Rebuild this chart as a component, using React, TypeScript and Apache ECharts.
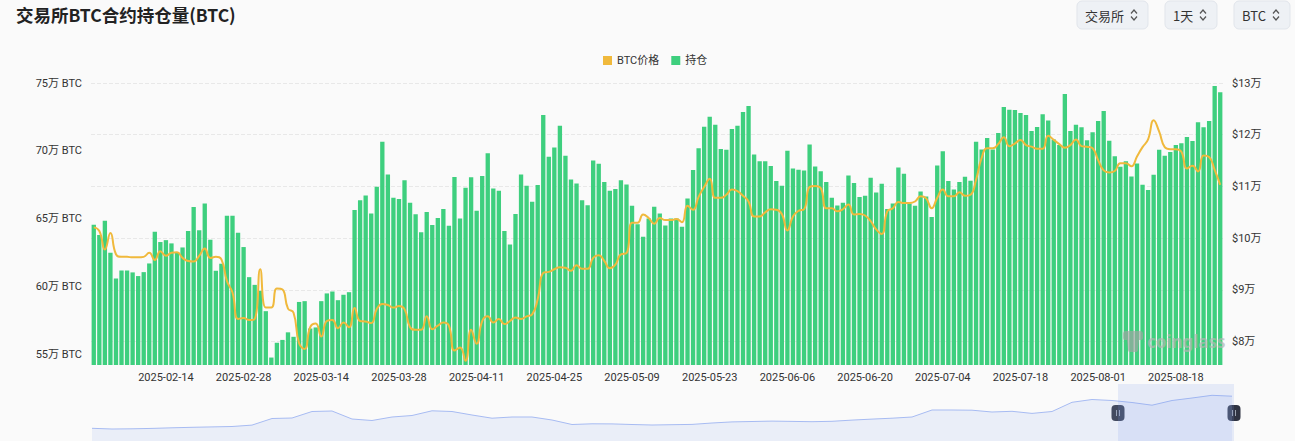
import React, { useEffect, useRef } from "react";
import * as echarts from "echarts";

// ---------- data ----------
const START_YEAR = 2025;
const START_MONTH = 1; // February (0-based)
const START_DAY = 1;
const SKIPPED_DATES = ["2025-08-05", "2025-08-06", "2025-08-07"];
const BAR_COUNT = 204;
const FIRST_LABEL_INDEX = 13;
const LABEL_STEP = 14;

// 持仓 (万 BTC)
const holdingsWan = [
  64.54, 63.78, 64.84, 62.48, 60.58, 61.17, 61.17, 61.03, 60.76, 61.05,
  61.69, 64.03, 63.27, 63.41, 63.17, 62.48, 62.87, 64.08, 65.85, 64.13,
  66.12, 63.44, 61.15, 61.67, 65.21, 65.21, 63.95, 62.9, 60.68, 60.11,
  59.67, 58.17, 54.75, 55.84, 56.05, 56.61, 56.28, 58.85, 58.91, 56.89,
  56.97, 58.91, 59.48, 59.62, 58.98, 59.38, 59.57, 65.63, 66.36, 66.71,
  65.38, 67.35, 70.67, 68.26, 66.54, 66.44, 67.82, 66.17, 65.31, 64.0,
  65.48, 64.52, 65.04, 65.7, 64.47, 68.06, 65.01, 67.27, 68.04, 65.58,
  68.14, 69.81, 67.22, 67.05, 64.08, 63.09, 65.33, 68.26, 67.42, 66.24,
  67.47, 72.64, 69.56, 70.25, 71.85, 69.64, 67.89, 67.59, 66.36, 65.99,
  69.29, 69.05, 67.69, 67.05, 67.18, 67.82, 67.52, 65.95, 64.59, 63.66,
  65.01, 65.87, 65.38, 64.49, 65.01, 65.01, 64.4, 66.49, 68.58, 70.18,
  71.78, 72.51, 71.92, 70.13, 70.08, 71.6, 71.85, 72.86, 73.3, 69.73,
  69.22, 69.22, 68.87, 67.77, 67.42, 70.0, 68.7, 68.6, 68.55, 70.47,
  68.85, 68.5, 67.69, 66.54, 65.97, 66.17, 68.18, 67.62, 66.59, 66.68,
  68.01, 66.93, 67.57, 65.7, 66.12, 68.77, 68.31, 66.12, 65.95, 67.0,
  66.63, 65.11, 68.92, 69.96, 67.77, 67.15, 67.69, 68.09, 67.79, 70.67,
  70.1, 70.94, 70.1, 71.31, 73.23, 73.03, 73.01, 72.78, 72.64, 71.46,
  71.75, 72.69, 72.24, 70.84, 70.42, 74.19, 71.46, 71.92, 71.73, 70.77,
  71.36, 72.19, 72.93, 70.74, 69.6, 68.82, 69.22, 68.11, 69.07, 67.5,
  67.1, 68.23, 70.08, 69.64, 69.91, 70.42, 70.55, 71.01, 70.72, 72.1,
  71.73, 72.19, 74.78, 74.31,
];

// BTC价格 (万 USD)
const btcPriceWan = [
  10.21, 10.14, 9.78, 10.1, 9.69, 9.64, 9.64, 9.63, 9.63, 9.64,
  9.72, 9.58, 9.75, 9.66, 9.72, 9.73, 9.62, 9.56, 9.55, 9.66,
  9.8, 9.62, 9.64, 9.59, 9.17, 8.95, 8.44, 8.46, 8.42, 8.44,
  9.4, 8.66, 8.66, 9.03, 9.01, 8.64, 8.56, 7.97, 7.86, 8.28,
  8.35, 8.1, 8.4, 8.42, 8.26, 8.37, 8.28, 8.65, 8.4, 8.39,
  8.36, 8.63, 8.73, 8.71, 8.66, 8.69, 8.63, 8.28, 8.23, 8.23,
  8.49, 8.24, 8.31, 8.37, 8.31, 7.83, 7.89, 7.63, 8.23, 7.96,
  8.4, 8.49, 8.37, 8.44, 8.34, 8.4, 8.47, 8.44, 8.49, 8.53,
  8.82, 9.33, 9.35, 9.4, 9.44, 9.43, 9.37, 9.48, 9.41, 9.41,
  9.62, 9.67, 9.56, 9.42, 9.49, 9.69, 9.71, 10.3, 10.3, 10.46,
  10.39, 10.28, 10.39, 10.35, 10.35, 10.37, 10.31, 10.63, 10.55, 10.8,
  10.99, 11.15, 10.78, 10.78, 10.84, 10.94, 10.91, 10.82, 10.71, 10.42,
  10.42, 10.5, 10.56, 10.55, 10.47, 10.15, 10.42, 10.53, 10.56, 10.99,
  11.01, 10.97, 10.58, 10.58, 10.52, 10.56, 10.65, 10.46, 10.47, 10.44,
  10.33, 10.17, 10.08, 10.52, 10.58, 10.7, 10.68, 10.68, 10.71, 10.81,
  10.77, 10.58, 10.78, 10.94, 10.81, 10.81, 10.89, 10.82, 10.84, 11.13,
  11.55, 11.74, 11.74, 11.82, 11.95, 11.78, 11.83, 11.9, 11.8, 11.77,
  11.73, 11.73, 11.98, 11.9, 11.82, 11.75, 11.8, 11.91, 11.78, 11.77,
  11.74, 11.51, 11.31, 11.27, 11.3, 11.45, 11.45, 11.39, 11.58, 11.76,
  11.91, 12.28, 12.06, 11.76, 11.72, 11.72, 11.67, 11.35, 11.4, 11.29,
  11.6, 11.57, 11.32, 11.03,
];

// relative long-term history shown in the zoom strip
const historyOverview = [
  12.7, 12.0, 12.2, 12.6, 13.2, 13.7, 14.1, 14.5, 15.9, 22.5,
  23.0, 29.5, 30.0, 22.0, 20.5, 24.0, 25.5, 30.2, 29.5, 26.0,
  22.8, 24.0, 24.0, 21.0, 16.5, 17.2, 17.1, 16.5, 16.0, 16.3,
  16.6, 18.0, 19.1, 19.5, 19.9, 19.6, 19.3, 19.7, 20.9, 21.9,
  22.8, 24.0, 31.0, 31.0, 30.8, 29.0, 29.7, 27.6, 29.5, 38.7,
  41.5, 40.5, 38.5, 35.8, 40.5, 43.0, 45.7, 44.8,
];

const leftAxisMin = 542000;
const leftAxisMax = 750000;
const leftLabelStep = 50000;
const rightAxisMin = 75500;
const rightAxisMax = 130000;
const rightLabelStep = 10000;
const priceGridValues = [80000, 90000, 100000, 110000, 120000, 130000];

const TITLE = "交易所BTC合约持仓量(BTC)";
const BUTTONS = [
  { label: "交易所", x: 1077, w: 71 },
  { label: "1天", x: 1165, w: 52 },
  { label: "BTC", x: 1234, w: 56 },
];

function buildDates(): string[] {
  const out: string[] = [];
  const d = new Date(Date.UTC(START_YEAR, START_MONTH, START_DAY));
  while (out.length < BAR_COUNT) {
    const s = d.toISOString().slice(0, 10);
    if (!SKIPPED_DATES.includes(s)) out.push(s);
    d.setUTCDate(d.getUTCDate() + 1);
  }
  return out;
}

echarts.graphic.registerShape(
  "cgLogo",
  echarts.graphic.extendPath(
    "M3 1 L17 1 Q20 1 20 4 L20 8 Q20 10 18 10 L16 10 L15 20 Q15 22 13 22 L7 22 Q5 22 5 20 L4 10 L2 10 Q0 10 0 8 L0 4 Q0 1 3 1 Z",
    {}
  )
);

function chevron(x: number) {
  return [
    {
      type: "polyline",
      shape: { points: [[x, 13.5], [x + 3, 10], [x + 6, 13.5]] },
      style: { stroke: "#555", lineWidth: 1.2, fill: null },
    },
    {
      type: "polyline",
      shape: { points: [[x, 16.5], [x + 3, 20], [x + 6, 16.5]] },
      style: { stroke: "#555", lineWidth: 1.2, fill: null },
    },
  ];
}

function handle(cx: number) {
  return {
    type: "group",
    z: 20,
    children: [
      {
        type: "rect",
        shape: { x: cx - 6.5, y: 405, width: 13, height: 16, r: 4 },
        style: { fill: "#2f3342" },
      },
      {
        type: "line",
        shape: { x1: cx - 1.5, y1: 410, x2: cx - 1.5, y2: 416 },
        style: { stroke: "#9aa1b0", lineWidth: 1 },
      },
      {
        type: "line",
        shape: { x1: cx + 1.5, y1: 410, x2: cx + 1.5, y2: 416 },
        style: { stroke: "#9aa1b0", lineWidth: 1 },
      },
    ],
  };
}

export default function App() {
  const ref = useRef<HTMLDivElement>(null);

  useEffect(() => {
    document.body.style.margin = "0";
    document.body.style.background = "#fafafa";
    if (!ref.current) return;
    const chart = echarts.init(ref.current, null, { renderer: "svg" });
    const dates = buildDates();
    const holdings = holdingsWan.map((v) => Math.round(v * 10000));
    const prices = btcPriceWan.map((v) => Math.round(v * 10000));
    const font = "Roboto, 'Noto Sans CJK SC', sans-serif";

    const buttonGraphics: any[] = [];
    BUTTONS.forEach((b) => {
      buttonGraphics.push({
        type: "rect",
        shape: { x: b.x, y: 1, width: b.w, height: 28, r: 5 },
        style: { fill: "#eef1f5", stroke: "#e1e5eb", lineWidth: 1 },
      });
      buttonGraphics.push({
        type: "text",
        x: b.x + 8,
        y: 15,
        style: {
          text: b.label,
          font: "13px 'Noto Sans CJK SC', Roboto, sans-serif",
          fill: "#333",
          textVerticalAlign: "middle",
        },
      });
      buttonGraphics.push(...chevron(b.x + b.w - 17));
    });

    const option: any = {
      animation: false,
      backgroundColor: "#fafafa",
      title: {
        text: TITLE,
        left: 16,
        top: 6,
        padding: 0,
        textStyle: {
          fontSize: 17.5,
          fontWeight: "bold",
          color: "#222",
          fontFamily: "'Noto Sans CJK SC', sans-serif",
        },
      },
      legend: {
        data: [
          { name: "BTC价格", icon: "rect" },
          { name: "持仓", icon: "rect" },
        ],
        left: 598,
        top: 50,
        itemWidth: 9,
        itemHeight: 9,
        itemGap: 12,
        textStyle: { fontSize: 11, color: "#333", fontFamily: font },
      },
      grid: [
        { left: 91, top: 83, width: 1132, height: 282 },
        { left: 92, top: 384, width: 1140, height: 57 },
      ],
      xAxis: [
        {
          type: "category",
          gridIndex: 0,
          data: dates,
          boundaryGap: true,
          axisLine: { show: false },
          axisTick: { show: false },
          axisLabel: {
            interval: (idx: number) =>
              idx >= FIRST_LABEL_INDEX && (idx - FIRST_LABEL_INDEX) % LABEL_STEP === 0,
            fontSize: 11,
            color: "#333",
            margin: 7,
            fontFamily: font,
          },
        },
        {
          type: "category",
          gridIndex: 1,
          data: historyOverview.map((_, i) => i),
          boundaryGap: false,
          show: false,
        },
      ],
      yAxis: [
        {
          type: "value",
          gridIndex: 0,
          min: leftAxisMin,
          max: leftAxisMax,
          interval: 2000,
          axisLine: { show: false },
          axisTick: { show: false },
          splitLine: { show: false },
          axisLabel: {
            fontSize: 11,
            color: "#333",
            margin: 9,
            fontFamily: font,
            formatter: (v: number) =>
              v % leftLabelStep === 0 ? `${v / 10000}万 BTC` : "",
          },
        },
        {
          type: "value",
          gridIndex: 0,
          position: "right",
          min: rightAxisMin,
          max: rightAxisMax,
          interval: 500,
          axisLine: { show: false },
          axisTick: { show: false },
          splitLine: { show: false },
          axisLabel: {
            fontSize: 11,
            color: "#333",
            margin: 9,
            fontFamily: font,
            formatter: (v: number) =>
              v % rightLabelStep === 0 ? `$${v / 10000}万` : "",
          },
        },
        {
          type: "value",
          gridIndex: 1,
          min: 0,
          max: 57,
          show: false,
        },
      ],
      series: [
        {
          name: "持仓",
          type: "bar",
          xAxisIndex: 0,
          yAxisIndex: 0,
          data: holdings,
          barCategoryGap: "22%",
          itemStyle: { color: "#3ecf7e" },
          z: 2,
        },
        {
          name: "BTC价格",
          type: "line",
          xAxisIndex: 0,
          yAxisIndex: 1,
          data: prices,
          smooth: true,
          showSymbol: false,
          lineStyle: { color: "#f0b93c", width: 2 },
          itemStyle: { color: "#f0b93c" },
          z: 3,
          markLine: {
            silent: true,
            symbol: ["none", "none"],
            label: { show: false },
            lineStyle: { color: "#e8e8e8", type: "dashed", width: 1 },
            data: priceGridValues.map((v) => ({ yAxis: v })),
            z: 1,
          },
        },
        {
          name: "history",
          type: "line",
          xAxisIndex: 1,
          yAxisIndex: 2,
          data: historyOverview,
          showSymbol: false,
          silent: true,
          lineStyle: { color: "#a7bbf2", width: 1 },
          areaStyle: { color: "rgba(160,182,236,0.25)" },
        },
      ],
      graphic: [
        ...buttonGraphics,
        {
          type: "rect",
          z: 15,
          shape: { x: 1118, y: 384, width: 116, height: 57 },
          style: { fill: "rgba(125,155,235,0.16)" },
        },
        handle(1118),
        handle(1234),
        {
          type: "cgLogo",
          x: 1123,
          y: 330,
          z: 30,
          style: { fill: "rgba(165,165,165,0.65)" },
        },
        {
          type: "text",
          x: 1147,
          y: 341,
          z: 30,
          style: {
            text: "coinglass",
            font: "bold 17px 'Noto Sans', sans-serif",
            fill: "rgba(180,180,180,0.7)",
            textVerticalAlign: "middle",
          },
        },
      ],
    };
    chart.setOption(option);
    return () => chart.dispose();
  }, []);

  return <div ref={ref} style={{ width: 1295, height: 441 }} />;
}
